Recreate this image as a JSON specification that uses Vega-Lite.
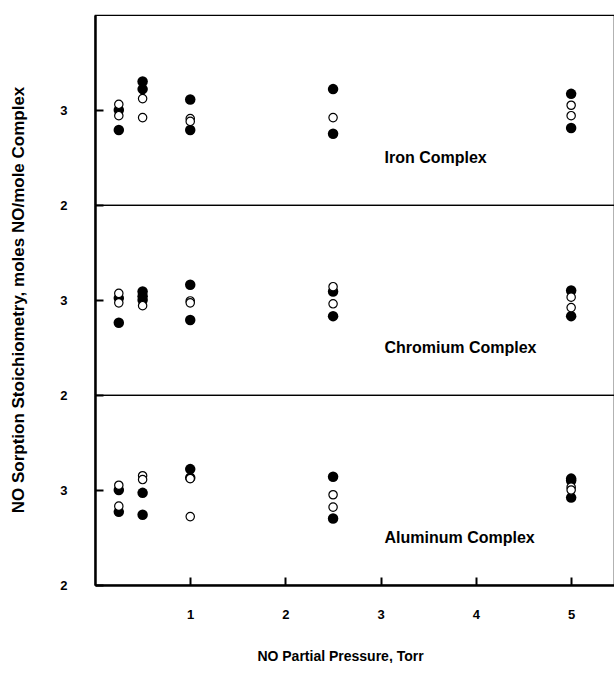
{
  "$schema": "https://vega.github.io/schema/vega-lite/v6.json",
  "padding": {"left": 9, "top": 14, "right": 0, "bottom": 0},
  "background": "white",
  "data": {"values": [
    {"complex": "Iron Complex", "pressure": 0.25, "value": 3.00, "type": "filled"},
    {"complex": "Iron Complex", "pressure": 0.25, "value": 2.79, "type": "filled"},
    {"complex": "Iron Complex", "pressure": 0.25, "value": 3.06, "type": "open"},
    {"complex": "Iron Complex", "pressure": 0.25, "value": 2.94, "type": "open"},
    {"complex": "Iron Complex", "pressure": 0.5, "value": 3.30, "type": "filled"},
    {"complex": "Iron Complex", "pressure": 0.5, "value": 3.22, "type": "filled"},
    {"complex": "Iron Complex", "pressure": 0.5, "value": 3.12, "type": "open"},
    {"complex": "Iron Complex", "pressure": 0.5, "value": 2.92, "type": "open"},
    {"complex": "Iron Complex", "pressure": 1.0, "value": 3.11, "type": "filled"},
    {"complex": "Iron Complex", "pressure": 1.0, "value": 2.79, "type": "filled"},
    {"complex": "Iron Complex", "pressure": 1.0, "value": 2.91, "type": "open"},
    {"complex": "Iron Complex", "pressure": 1.0, "value": 2.88, "type": "open"},
    {"complex": "Iron Complex", "pressure": 2.5, "value": 3.22, "type": "filled"},
    {"complex": "Iron Complex", "pressure": 2.5, "value": 2.75, "type": "filled"},
    {"complex": "Iron Complex", "pressure": 2.5, "value": 2.92, "type": "open"},
    {"complex": "Iron Complex", "pressure": 5.0, "value": 3.17, "type": "filled"},
    {"complex": "Iron Complex", "pressure": 5.0, "value": 2.81, "type": "filled"},
    {"complex": "Iron Complex", "pressure": 5.0, "value": 3.05, "type": "open"},
    {"complex": "Iron Complex", "pressure": 5.0, "value": 2.94, "type": "open"},
    {"complex": "Chromium Complex", "pressure": 0.25, "value": 3.07, "type": "open"},
    {"complex": "Chromium Complex", "pressure": 0.25, "value": 3.02, "type": "filled"},
    {"complex": "Chromium Complex", "pressure": 0.25, "value": 2.97, "type": "open"},
    {"complex": "Chromium Complex", "pressure": 0.25, "value": 2.76, "type": "filled"},
    {"complex": "Chromium Complex", "pressure": 0.5, "value": 3.09, "type": "filled"},
    {"complex": "Chromium Complex", "pressure": 0.5, "value": 3.04, "type": "filled"},
    {"complex": "Chromium Complex", "pressure": 0.5, "value": 3.00, "type": "filled"},
    {"complex": "Chromium Complex", "pressure": 0.5, "value": 2.94, "type": "open"},
    {"complex": "Chromium Complex", "pressure": 1.0, "value": 3.16, "type": "filled"},
    {"complex": "Chromium Complex", "pressure": 1.0, "value": 2.99, "type": "open"},
    {"complex": "Chromium Complex", "pressure": 1.0, "value": 2.97, "type": "open"},
    {"complex": "Chromium Complex", "pressure": 1.0, "value": 2.79, "type": "filled"},
    {"complex": "Chromium Complex", "pressure": 2.5, "value": 3.14, "type": "open"},
    {"complex": "Chromium Complex", "pressure": 2.5, "value": 3.09, "type": "filled"},
    {"complex": "Chromium Complex", "pressure": 2.5, "value": 2.96, "type": "open"},
    {"complex": "Chromium Complex", "pressure": 2.5, "value": 2.83, "type": "filled"},
    {"complex": "Chromium Complex", "pressure": 5.0, "value": 3.10, "type": "filled"},
    {"complex": "Chromium Complex", "pressure": 5.0, "value": 3.03, "type": "open"},
    {"complex": "Chromium Complex", "pressure": 5.0, "value": 2.92, "type": "open"},
    {"complex": "Chromium Complex", "pressure": 5.0, "value": 2.83, "type": "filled"},
    {"complex": "Aluminum Complex", "pressure": 0.25, "value": 3.05, "type": "open"},
    {"complex": "Aluminum Complex", "pressure": 0.25, "value": 3.00, "type": "filled"},
    {"complex": "Aluminum Complex", "pressure": 0.25, "value": 2.83, "type": "open"},
    {"complex": "Aluminum Complex", "pressure": 0.25, "value": 2.77, "type": "filled"},
    {"complex": "Aluminum Complex", "pressure": 0.5, "value": 3.15, "type": "open"},
    {"complex": "Aluminum Complex", "pressure": 0.5, "value": 3.11, "type": "open"},
    {"complex": "Aluminum Complex", "pressure": 0.5, "value": 2.97, "type": "filled"},
    {"complex": "Aluminum Complex", "pressure": 0.5, "value": 2.74, "type": "filled"},
    {"complex": "Aluminum Complex", "pressure": 1.0, "value": 3.22, "type": "filled"},
    {"complex": "Aluminum Complex", "pressure": 1.0, "value": 3.13, "type": "filled"},
    {"complex": "Aluminum Complex", "pressure": 1.0, "value": 3.12, "type": "open"},
    {"complex": "Aluminum Complex", "pressure": 1.0, "value": 2.72, "type": "open"},
    {"complex": "Aluminum Complex", "pressure": 2.5, "value": 3.14, "type": "filled"},
    {"complex": "Aluminum Complex", "pressure": 2.5, "value": 2.95, "type": "open"},
    {"complex": "Aluminum Complex", "pressure": 2.5, "value": 2.82, "type": "open"},
    {"complex": "Aluminum Complex", "pressure": 2.5, "value": 2.70, "type": "filled"},
    {"complex": "Aluminum Complex", "pressure": 5.0, "value": 3.12, "type": "filled"},
    {"complex": "Aluminum Complex", "pressure": 5.0, "value": 3.10, "type": "filled"},
    {"complex": "Aluminum Complex", "pressure": 5.0, "value": 3.03, "type": "open"},
    {"complex": "Aluminum Complex", "pressure": 5.0, "value": 3.00, "type": "open"},
    {"complex": "Aluminum Complex", "pressure": 5.0, "value": 2.92, "type": "filled"}
  ]},
  "facet": {
    "row": {
      "field": "complex",
      "type": "nominal",
      "sort": ["Iron Complex", "Chromium Complex", "Aluminum Complex"],
      "header": {
        "title": "NO Sorption Stoichiometry, moles NO/mole Complex",
        "labels": false,
        "titleFont": "Liberation Sans",
        "titleFontSize": 17,
        "titleFontWeight": "bold",
        "titleColor": "black",
        "titlePadding": 21
      }
    }
  },
  "spacing": 0,
  "bounds": "flush",
  "spec": {
    "width": 519,
    "height": 190,
    "layer": [
      {
        "transform": [{"filter": "datum.type === 'filled'"}],
        "mark": {"type": "circle", "color": "black", "size": 110, "opacity": 1},
        "encoding": {
          "x": {
            "field": "pressure",
            "type": "quantitative",
            "scale": {"domain": [0, 5.45], "nice": false, "zero": true},
            "axis": {"values": [1, 2, 3, 4, 5], "format": "d", "title": "NO Partial Pressure, Torr", "titleX": 245}
          },
          "y": {
            "field": "value",
            "type": "quantitative",
            "scale": {"domain": [2, 4], "nice": false, "zero": false},
            "axis": {"values": [2, 3], "format": "d", "title": null}
          }
        }
      },
      {
        "transform": [{"filter": "datum.type === 'open'"}],
        "mark": {"type": "circle", "color": "white", "stroke": "black", "strokeWidth": 1.2, "size": 70, "opacity": 1},
        "encoding": {
          "x": {"field": "pressure", "type": "quantitative"},
          "y": {"field": "value", "type": "quantitative"}
        }
      },
      {
        "transform": [
          {"aggregate": [{"op": "count", "as": "n"}], "groupby": ["complex"]}
        ],
        "mark": {"type": "text", "align": "left", "baseline": "middle", "font": "Liberation Sans", "fontWeight": "bold", "fontSize": 16, "color": "black"},
        "encoding": {
          "x": {"datum": 3.04, "type": "quantitative"},
          "y": {"datum": 2.5, "type": "quantitative"},
          "text": {"field": "complex", "type": "nominal"}
        }
      }
    ]
  },
  "config": {
    "view": {"stroke": "black", "strokeWidth": 1.2},
    "axis": {
      "grid": false,
      "domainColor": "black",
      "domainWidth": 2.5,
      "tickColor": "black",
      "tickWidth": 2,
      "tickSize": -8,
      "labelFont": "Liberation Sans",
      "labelFontWeight": "bold",
      "labelFontSize": 13,
      "labelColor": "black",
      "titleFont": "Liberation Sans",
      "titleFontWeight": "bold",
      "titleFontSize": 14,
      "titleColor": "black"
    },
    "axisY": {"labelPadding": 36},
    "axisX": {"labelPadding": 31, "titlePadding": 28}
  }
}
